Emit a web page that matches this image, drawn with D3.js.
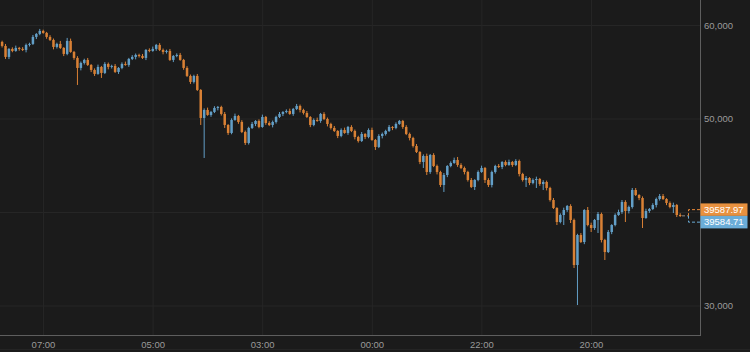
<!DOCTYPE html>
<html>
<head>
<meta charset="utf-8">
<script src="https://cdn.jsdelivr.net/npm/d3@7/dist/d3.min.js"></script>
<style>
html, body { margin: 0; padding: 0; background: #1b1b1b; }
svg { display: block; }
.axis text { fill: #9a9a9a; font-family: "Liberation Sans", Arial, sans-serif; font-size: 9.5px; }
.axis .domain { display: none; }
.axis line { stroke: #262626; }
.tag { fill: #fff; font-family: "Liberation Sans", Arial, sans-serif; font-size: 9.5px; }
</style>
</head>
<body>
<div id="chart"></div>
<script>
// tick labels
const timeLabels = ["07:00", "05:00", "03:00", "00:00", "22:00", "20:00"];
const timeTickIdx = [12, 44, 76, 108, 140, 172];
const priceTicks = [30000, 40000, 50000, 60000];

// last two quotes shown on the right
const lastPrices = [39587.97, 39584.71];

// candles (one per bar)
const opens = [58190,57762,56585,57441,57227,57548,57441,57334,57869,57976,
58725,59046,59367,59153,58725,58404,57655,57976,57548,56906,
58297,57120,56478,55408,55943,56264,55729,55194,54766,55515,
54873,55836,55515,55622,54980,55408,55836,55729,56371,56585,
56799,56692,56478,57334,57227,57441,57869,57334,57120,57227,
56264,56692,56799,56264,55408,54552,53910,54552,53054,50058,
50914,50379,50700,51128,51235,50486,49309,48453,49844,50272,
49630,48560,47383,48988,49416,49737,49095,50165,49523,49309,
49630,50165,50486,50700,50807,50486,51021,51342,50914,50593,
50165,49309,49844,49737,50486,49951,49416,48988,48667,48132,
48774,48453,49095,48667,48025,47597,48346,48025,48774,47704,
46955,48132,48346,48667,49095,48988,49416,49737,49095,48346,
47918,47062,46420,45350,45992,44280,46099,44922,44280,42889,
43959,44922,45243,45564,45029,44708,44280,43424,42675,43424,
44280,44708,43424,42889,44280,44922,44815,45350,45029,45350,
45029,45457,44066,43424,43638,43103,43424,43531,42996,43210,
42568,41284,40428,38930,39679,40214,40642,39144,34329,37539,
36790,40214,38609,38288,39144,39786,37004,35720,37860,38609,
39679,40000,41070,40107,40535,42354,41819,41498,39358,40107,
40321,40749,41391,41712,41391,40963,40535,40749,39679];
const closes = [57762,56585,57441,57227,57548,57441,57334,57869,57976,58725,
59046,59367,59153,58725,58404,57655,57976,57548,56906,58297,
57120,56478,55408,55943,56264,55729,55194,54766,55515,54873,
55836,55515,55622,54980,55408,55836,55729,56371,56585,56799,
56692,56478,57334,57227,57441,57869,57334,57120,57227,56264,
56692,56799,56264,55408,54552,53910,54552,53054,50058,50914,
50379,50700,51128,51235,50486,49309,48453,49844,50272,49630,
48560,47383,48988,49416,49737,49095,50165,49523,49309,49630,
50165,50486,50700,50807,50486,51021,51342,50914,50593,50165,
49309,49844,49737,50486,49951,49416,48988,48667,48132,48774,
48453,49095,48667,48025,47597,48346,48025,48774,47704,46955,
48132,48346,48667,49095,48988,49416,49737,49095,48346,47918,
47062,46420,45350,45992,44280,46099,44922,44280,42889,43959,
44922,45243,45564,45029,44708,44280,43424,42675,43424,44280,
44708,43424,42889,44280,44922,44815,45350,45029,45350,45029,
45457,44066,43424,43638,43103,43424,43531,42996,43210,42568,
41284,40428,38930,39679,40214,40642,39144,34329,37539,36790,
40214,38609,38288,39144,39786,37004,35720,37860,38609,39679,
40000,41070,40107,40535,42354,41819,41498,39358,40107,40321,
40749,41391,41712,41391,40963,40535,40749,39679,39587.97];
const highs = [58320,57972,57531,57611,57798,57658,57631,58019,58106,58935,
59136,59581,59500,59263,58915,58554,58106,58297,57638,58618,
58547,57230,56668,56093,56394,56474,55819,55364,55765,55625,
56026,55986,55752,55832,55498,56006,56086,56481,56775,56949,
56929,56902,57424,57504,57691,57976,58059,57484,57357,57437,
56782,56969,57013,56374,55598,54702,54682,54762,53144,51084,
51164,50810,51318,51342,51365,50696,49399,50014,50522,50382,
49820,48710,49118,49626,49827,49907,50415,50275,49713,49780,
50295,50696,50790,50977,51057,51131,51556,51492,51044,50803,
50255,50014,50094,50596,50676,50101,49546,49198,48757,48944,
49024,49205,49285,48817,48155,48556,48436,48944,49024,47814,
48322,48496,48797,49305,49185,49586,49844,49847,49285,48496,
48048,47272,46510,46162,46242,46209,46289,45072,44410,44169,
45012,45413,45814,45885,45219,44858,44410,43634,43514,44450,
44958,44818,43614,44430,45052,45132,45440,45520,45600,45460,
45647,45607,44196,43848,43728,43594,43781,43641,43400,43360,
42698,41494,40518,39849,40464,40749,40832,39294,37669,37749,
40304,40535,38859,39254,40000,39936,37134,38070,38699,39849,
40250,41284,41260,40685,42568,42564,41909,41668,40357,40431,
40939,41541,41926,41922,41481,41133,40999,40859,39869];
const lows = [57592,56371,56355,57087,57137,57241,57214,57074,57699,57866,
58495,58906,59063,58525,58284,57395,57485,57438,56676,56766,
57030,56278,53589,55148,55773,55619,54964,54552,54676,54338,
54753,55255,55345,54870,54766,55268,55639,55529,56251,56325,
56522,56368,56248,57087,57137,57241,57214,56860,56950,56154,
56034,56552,56174,55208,54432,53696,53740,52944,49309,45778,
50289,50179,50580,50868,50316,48988,48239,48313,49754,49430,
48440,47169,47213,48878,49186,48955,49005,49323,49189,49049,
49460,50055,50256,50560,50396,50286,50901,50654,50423,50055,
49079,49169,49647,49537,49831,49156,48818,48557,47902,47992,
48363,48253,48547,47765,47427,47487,47795,47885,47614,46634,
46835,47872,48176,48557,48758,48848,49326,48895,48226,47658,
46892,46310,45120,44708,43959,44080,44802,44020,42675,42140,
43729,44782,45153,44829,44588,44020,43254,42565,42354,43284,
44190,43103,42675,42629,44110,44705,44585,44889,44939,44829,
44909,43806,43254,42675,42873,42963,42568,42796,42354,42308,
41114,40318,38609,38790,38609,40014,38823,34008,30049,36680,
36560,38469,37860,38088,37753,36744,34864,35610,37630,38469,
39589,39800,38930,39847,40365,41709,41268,38288,39268,39907,
40201,40489,41221,41281,40733,40395,39893,39465,39468];

const W = 750, H = 352;
const plotRight = 700, plotBottom = 336;
const upColor = "#6aabd6", downColor = "#ea8a38";

const svg = d3.select("#chart").append("svg")
    .attr("width", W).attr("height", H);

svg.append("rect").attr("width", W).attr("height", H).attr("fill", "#1b1b1b");

const x = d3.scaleLinear().domain([0, closes.length - 1]).range([1.9, 680]);
const y = d3.scaleLinear().domain([30000, 60000]).range([305.5, 25]);

// last price connector position (the 40,000 label sits under the tags)
const pY = y(lastPrices[0]);
const tagH = 12.5;
const tag0 = pY - 6.2, tag1 = tag0 + tagH;

// horizontal grid + price labels
svg.append("g").attr("class", "axis")
    .call(d3.axisRight(y).tickValues(priceTicks).tickSize(plotRight).tickPadding(4)
        .tickFormat(d => Math.abs(y(d) - pY) < 15 ? "" : d3.format(",")(d)));

// vertical grid + time labels
svg.append("g").attr("class", "axis")
    .call(d3.axisBottom(x).tickValues(timeTickIdx).tickSize(plotBottom).tickPadding(5)
        .tickFormat((d, i) => timeLabels[i]));

// frame
svg.append("line").attr("x1", plotRight + 0.5).attr("x2", plotRight + 0.5)
    .attr("y1", 0).attr("y2", plotBottom).attr("stroke", "#5e5e5e");
svg.append("line").attr("x1", 0).attr("x2", plotRight + 1)
    .attr("y1", plotBottom - 0.5).attr("y2", plotBottom - 0.5).attr("stroke", "#5e5e5e");
svg.append("line").attr("x1", 0).attr("x2", W)
    .attr("y1", H - 2.5).attr("y2", H - 2.5).attr("stroke", "#242424");

// candles
const candles = svg.append("g").selectAll("g").data(closes).enter().append("g")
    .attr("fill", (c, i) => c >= opens[i] ? upColor : downColor)
    .attr("stroke", (c, i) => c >= opens[i] ? upColor : downColor)
    .attr("opacity", 0.92);

candles.append("line")
    .attr("x1", (c, i) => x(i) + 0.2)
    .attr("x2", (c, i) => x(i) + 0.2)
    .attr("y1", (c, i) => y(highs[i]))
    .attr("y2", (c, i) => y(lows[i]))
    .attr("stroke-width", 1);

candles.append("rect")
    .attr("stroke", "none")
    .attr("x", (c, i) => x(i) - 1.05)
    .attr("width", 2.5)
    .attr("y", (c, i) => y(Math.max(c, opens[i])))
    .attr("height", (c, i) => Math.max(1, Math.abs(y(c) - y(opens[i]))));

// last price connector and tags
svg.append("line").attr("x1", x(closes.length - 1) + 2).attr("x2", 688)
    .attr("y1", pY).attr("y2", pY).attr("stroke", "#8a8a8a").attr("stroke-dasharray", "3,2");
svg.append("path").attr("fill", "none").attr("stroke", downColor).attr("stroke-dasharray", "3,2")
    .attr("d", `M${plotRight},${tag0}H688.5V${pY}`);
svg.append("path").attr("fill", "none").attr("stroke", upColor).attr("stroke-dasharray", "3,2")
    .attr("d", `M${plotRight},${tag1}H688.5V${pY}`);

const tags = [[lastPrices[0], tag0, "#e8913f"], [lastPrices[1], tag1, "#6badd8"]];
tags.forEach(([v, cy, col]) => {
    svg.append("rect").attr("x", plotRight + 0.5).attr("y", cy - tagH / 2)
        .attr("width", 47).attr("height", tagH).attr("fill", col);
    svg.append("text").attr("class", "tag").attr("x", 704).attr("y", cy)
        .attr("dy", "0.35em").text(d3.format(".2f")(v));
});
</script>
</body>
</html>
